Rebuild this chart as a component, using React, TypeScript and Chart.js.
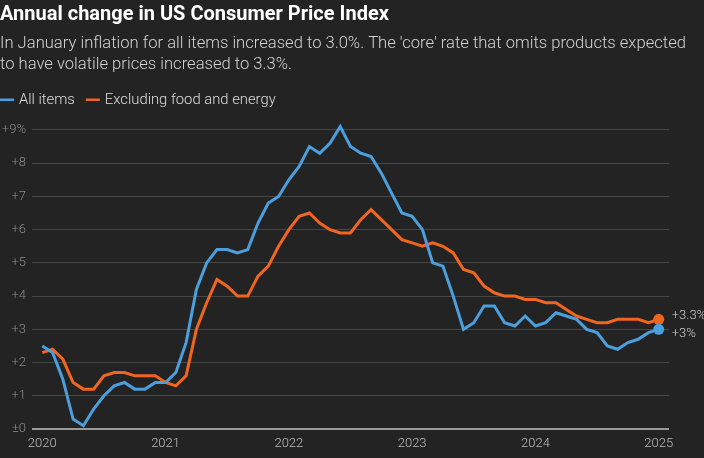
import React, { useEffect, useRef } from "react";
import { Chart, registerables } from "chart.js";

Chart.register(...registerables);

const allItems: number[] = [
  2.5, 2.3, 1.5, 0.3, 0.1, 0.6, 1.0, 1.3, 1.4, 1.2, 1.2, 1.4,
  1.4, 1.7, 2.6, 4.2, 5.0, 5.4, 5.4, 5.3, 5.4, 6.2, 6.8, 7.0,
  7.5, 7.9, 8.5, 8.3, 8.6, 9.1, 8.5, 8.3, 8.2, 7.7, 7.1, 6.5,
  6.4, 6.0, 5.0, 4.9, 4.0, 3.0, 3.2, 3.7, 3.7, 3.2, 3.1, 3.4,
  3.1, 3.2, 3.5, 3.4, 3.3, 3.0, 2.9, 2.5, 2.4, 2.6, 2.7, 2.9,
  3.0,
];

const coreItems: number[] = [
  2.3, 2.4, 2.1, 1.4, 1.2, 1.2, 1.6, 1.7, 1.7, 1.6, 1.6, 1.6,
  1.4, 1.3, 1.6, 3.0, 3.8, 4.5, 4.3, 4.0, 4.0, 4.6, 4.9, 5.5,
  6.0, 6.4, 6.5, 6.2, 6.0, 5.9, 5.9, 6.3, 6.6, 6.3, 6.0, 5.7,
  5.6, 5.5, 5.6, 5.5, 5.3, 4.8, 4.7, 4.3, 4.1, 4.0, 4.0, 3.9,
  3.9, 3.8, 3.8, 3.6, 3.4, 3.3, 3.2, 3.2, 3.3, 3.3, 3.3, 3.2,
  3.3,
];

const yearLabels: string[] = ["2020", "2021", "2022", "2023", "2024", "2025"];
const yTickValues: number[] = [0, 1, 2, 3, 4, 5, 6, 7, 8, 9];
const endLabels: string[] = ["+3%", "+3.3%"];

const TITLE = "Annual change in US Consumer Price Index";
const SUBTITLE = [
  "In January inflation for all items increased to 3.0%. The 'core' rate that omits products expected",
  "to have volatile prices increased to 3.3%.",
];
const SERIES_NAMES = ["All items", "Excluding food and energy"];

const BG = "#232323";
const BLUE = "#4b9fdc";
const ORANGE = "#f2651f";
const FONT = "Roboto";

export default function App() {
  const canvasRef = useRef<HTMLCanvasElement | null>(null);

  useEffect(() => {
    document.body.style.margin = "0";
    document.body.style.background = BG;
    const canvas = canvasRef.current;
    if (!canvas) return;
    const lastIdx = allItems.length - 1;

    const headerPlugin = {
      id: "header",
      beforeDraw(chart: any) {
        const ctx = chart.ctx;
        ctx.save();
        ctx.fillStyle = BG;
        ctx.fillRect(0, 0, chart.width, chart.height);
        ctx.restore();
      },
      afterDraw(chart: any) {
        const ctx = chart.ctx;
        ctx.save();
        ctx.textBaseline = "middle";
        ctx.textAlign = "left";
        ctx.fillStyle = "#ffffff";
        ctx.font = `bold 20px ${FONT}`;
        ctx.fillText(TITLE, 0, 15);
        ctx.fillStyle = "#d2d2d2";
        ctx.font = `300 16.6px ${FONT}`;
        ctx.fillText(SUBTITLE[0], 0, 44);
        ctx.fillText(SUBTITLE[1], 0, 65);
        // legend
        ctx.font = `300 14.8px ${FONT}`;
        const colors = [BLUE, ORANGE];
        let x = 0;
        SERIES_NAMES.forEach((name, i) => {
          ctx.fillStyle = colors[i];
          ctx.fillRect(x, 98.5, 14, 2.5);
          ctx.fillStyle = "#dddddd";
          ctx.fillText(name, x + 19, 100);
          x += 19 + ctx.measureText(name).width + 11;
        });
        ctx.restore();
      },
      afterDatasetsDraw(chart: any) {
        const ctx = chart.ctx;
        ctx.save();
        ctx.font = `300 13px ${FONT}`;
        ctx.fillStyle = "#cccccc";
        ctx.textBaseline = "middle";
        ctx.textAlign = "left";
        const offsets = [4, -4];
        chart.data.datasets.forEach((_: any, di: number) => {
          const meta = chart.getDatasetMeta(di);
          const pt = meta.data[lastIdx];
          if (pt) ctx.fillText(endLabels[di], pt.x + 13, pt.y + offsets[di]);
        });
        ctx.restore();
      },
    };

    const pointRadius = (c: any) => (c.dataIndex === lastIdx ? 5.5 : 0);

    const chart = new Chart(canvas, {
      type: "line",
      data: {
        datasets: [
          {
            label: SERIES_NAMES[0],
            data: allItems.map((y, i) => ({ x: i, y })),
            borderColor: BLUE,
            backgroundColor: BLUE,
            borderWidth: 3,
            pointRadius,
            pointHoverRadius: 0,
            pointBorderWidth: 0,
            tension: 0,
            clip: false as any,
          },
          {
            label: SERIES_NAMES[1],
            data: coreItems.map((y, i) => ({ x: i, y })),
            borderColor: ORANGE,
            backgroundColor: ORANGE,
            borderWidth: 3,
            pointRadius,
            pointHoverRadius: 0,
            pointBorderWidth: 0,
            tension: 0,
            clip: false as any,
          },
        ],
      },
      options: {
        responsive: false,
        animation: false,
        devicePixelRatio: 1,
        events: [],
        layout: { padding: { top: 120, right: 35, left: 0, bottom: 0 } },
        plugins: {
          legend: { display: false },
          tooltip: { enabled: false },
          title: { display: false },
        },
        scales: {
          x: {
            type: "linear",
            min: -1,
            max: 61,
            afterBuildTicks: (s: any) => {
              s.ticks = yearLabels.map((_, i) => ({ value: i * 12 }));
            },
            afterFit: (s: any) => {
              s.height = 29;
            },
            grid: { display: false, drawTicks: false },
            border: { display: false },
            ticks: {
              autoSkip: false,
              maxRotation: 0,
              padding: 7,
              color: "#bdbdbd",
              font: { family: FONT, size: 13, weight: "300" as any },
              callback: (v: any) => yearLabels[Math.round(Number(v) / 12)] ?? "",
            },
          },
          y: {
            min: 0,
            max: 9.3,
            afterBuildTicks: (s: any) => {
              s.ticks = yTickValues.map((v) => ({ value: v }));
            },
            afterFit: (s: any) => {
              s.width = 32;
            },
            grid: {
              drawTicks: false,
              color: (c: any) => (c.tick && c.tick.value === 0 ? "#9a9a9a" : "#464646"),
              lineWidth: (c: any) => (c.tick && c.tick.value === 0 ? 2 : 1),
            },
            border: { display: false },
            ticks: {
              padding: 6,
              color: "#8a8a8a",
              font: { family: FONT, size: 13, weight: "300" as any },
              callback: (v: any) => {
                const n = Number(v);
                if (n === 0) return "±0";
                if (n === 9) return "+9%";
                return "+" + n;
              },
            },
          },
        },
      },
      plugins: [headerPlugin],
    });

    return () => chart.destroy();
  }, []);

  return (
    <div style={{ width: 704, height: 458, background: BG }}>
      <canvas ref={canvasRef} width={704} height={458} style={{ display: "block" }} />
    </div>
  );
}
